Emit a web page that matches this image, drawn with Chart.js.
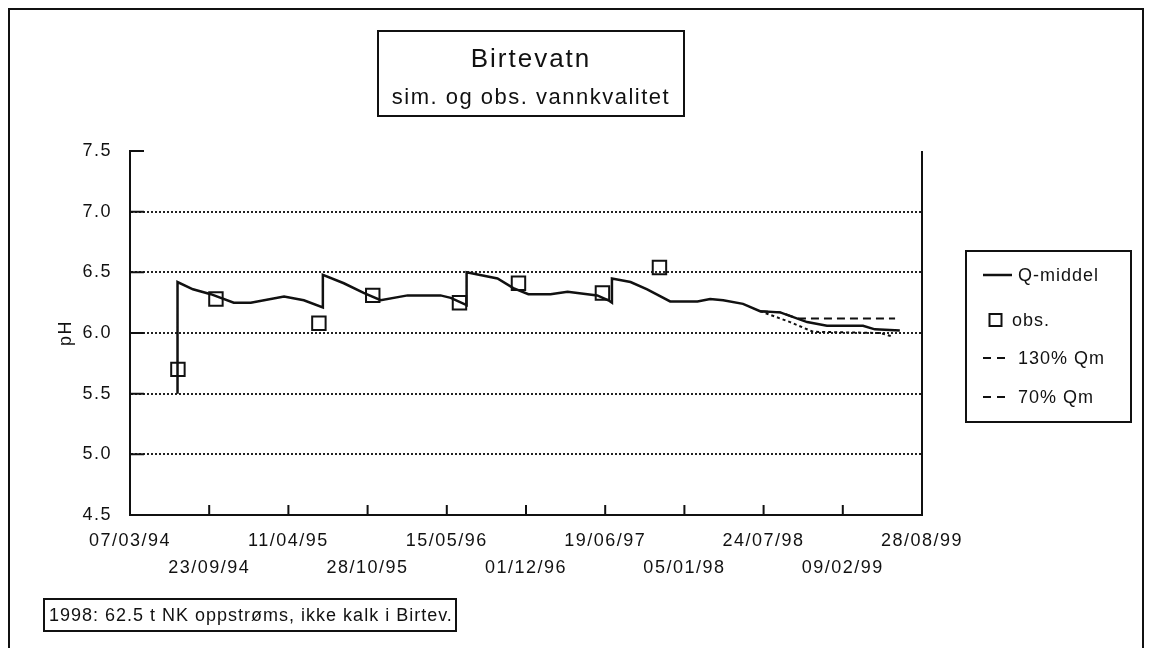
<!DOCTYPE html>
<html>
<head>
<meta charset="utf-8">
<script src="https://cdn.jsdelivr.net/npm/chart.js@4.4.0/dist/chart.umd.min.js"></script>
<style>
  body { margin: 0; background: #fff; font-family: "Liberation Sans", Arial, sans-serif; color: #111; }
  #wrap { position: relative; width: 1152px; height: 648px; overflow: hidden; background: #fff; }
  #phChart { position: absolute; left: 0; top: 0; }
  .box { position: absolute; box-sizing: border-box; border: 2px solid #111; }
  #frame { left: 8px; top: 8px; width: 1136px; height: 700px; }
  #titleBox { left: 377px; top: 30px; width: 308px; height: 87px; }
  .t { position: absolute; left: 377px; width: 308px; text-align: center; white-space: nowrap; }
  .t1 { top: 45px; font-size: 26px; line-height: 26px; letter-spacing: 2px; }
  .t2 { top: 86px; font-size: 22px; line-height: 22px; letter-spacing: 1.5px; }
  #legendBox { left: 965px; top: 250px; width: 167px; height: 173px; }
  .lg { position: absolute; height: 24px; line-height: 24px; font-size: 18px; letter-spacing: 1px; white-space: nowrap; }
  .lg svg { position: absolute; left: 0; top: 0; }
  #note { left: 43px; top: 598px; width: 414px; height: 34px; padding-left: 4px; line-height: 30px;
          font-size: 18px; letter-spacing: 1px; white-space: nowrap; }
</style>
</head>
<body>
<div id="wrap">
  <div id="frame" class="box"></div>
  <canvas id="phChart" width="1152" height="648"></canvas>
  <div id="titleBox" class="box"></div>
  <div class="t t1">Birtevatn</div>
  <div class="t t2">sim. og obs. vannkvalitet</div>
  <div id="legendBox" class="box"></div>
  <div class="lg" style="left:983px; top:263px; width:140px;">
    <svg width="30" height="24"><line x1="0" y1="12" x2="29" y2="12" stroke="#111" stroke-width="2.5"/></svg>
    <span style="position:absolute; left:35px;">Q-middel</span>
  </div>
  <div class="lg" style="left:983px; top:308px; width:140px;">
    <svg width="30" height="24"><rect x="6.5" y="6" width="12" height="12" fill="none" stroke="#111" stroke-width="2"/></svg>
    <span style="position:absolute; left:29px;">obs.</span>
  </div>
  <div class="lg" style="left:983px; top:346px; width:140px;">
    <svg width="30" height="24"><line x1="0" y1="12" x2="28" y2="12" stroke="#111" stroke-width="2" stroke-dasharray="8,6"/></svg>
    <span style="position:absolute; left:35px;">130% Qm</span>
  </div>
  <div class="lg" style="left:983px; top:385px; width:140px;">
    <svg width="30" height="24"><line x1="0" y1="12" x2="28" y2="12" stroke="#111" stroke-width="2" stroke-dasharray="8,6"/></svg>
    <span style="position:absolute; left:35px;">70% Qm</span>
  </div>
  <div id="note" class="box">1998: 62.5 t NK oppstrøms, ikke kalk i Birtev.</div>
</div>
<script>
const START = Date.UTC(1994, 2, 7);
const dayOf = iso => (Date.parse(iso) - START) / 86400000;
const tickDay = s => {
  const [d, m, y] = s.split("/").map(Number);
  return (Date.UTC(1900 + y, m - 1, d) - START) / 86400000;
};

const tickLabels = ["07/03/94", "23/09/94", "11/04/95", "28/10/95", "15/05/96", "01/12/96",
                    "19/06/97", "05/01/98", "24/07/98", "09/02/99", "28/08/99"];
const yTickValues = [4.5, 5.0, 5.5, 6.0, 6.5, 7.0, 7.5];

// simulert, middels vannføring
const qDates = ["1994-07-05", "1994-07-05", "1994-08-13", "1994-09-27", "1994-11-24", "1995-01-06",
  "1995-03-31", "1995-05-20", "1995-07-07", "1995-07-07", "1995-08-29", "1995-10-18", "1995-11-30",
  "1996-02-06", "1996-04-29", "1996-05-25", "1996-07-04", "1996-07-04", "1996-09-20", "1996-10-30",
  "1996-12-07", "1997-02-01", "1997-03-16", "1997-05-30", "1997-06-27", "1997-07-06", "1997-07-06",
  "1997-08-22", "1997-10-03", "1997-11-30", "1998-02-07", "1998-03-11", "1998-04-13", "1998-06-02",
  "1998-07-15", "1998-09-04", "1998-11-11", "1998-12-31", "1999-04-01", "1999-05-01", "1999-07-03"];
const qValues = [5.50, 6.42, 6.36, 6.32, 6.25, 6.25,
  6.30, 6.27, 6.21, 6.48, 6.41, 6.33, 6.27,
  6.31, 6.31, 6.29, 6.23, 6.50, 6.45, 6.37,
  6.32, 6.32, 6.34, 6.31, 6.27, 6.25, 6.45,
  6.42, 6.36, 6.26, 6.26, 6.28, 6.27, 6.24,
  6.18, 6.17, 6.09, 6.06, 6.06, 6.03, 6.02];

const obsDates = ["1994-07-06", "1994-10-10", "1995-06-27", "1995-11-10",
                  "1996-06-16", "1996-11-12", "1997-06-12", "1997-11-03"];
const obsValues = [5.70, 6.28, 6.08, 6.31, 6.25, 6.41, 6.33, 6.54];

const q130Dates = ["1998-07-15", "1998-09-04", "1998-10-17", "1999-06-21"];
const q130Values = [6.18, 6.17, 6.12, 6.12];

const q70Dates = ["1998-07-15", "1998-09-29", "1998-11-26", "1999-05-14", "1999-06-16"];
const q70Values = [6.18, 6.09, 6.01, 6.00, 5.97];

const pts = (dates, vals) => dates.map((d, i) => ({ x: dayOf(d), y: vals[i] }));

// bokstavavstand i canvas-tekst
const spacing = {
  id: "spacing",
  beforeUpdate(chart) { chart.ctx.letterSpacing = "1.5px"; },
  beforeDraw(chart) { chart.ctx.letterSpacing = "1.5px"; }
};

// høyre ramme + korte innvendige tick-streker
const frame = {
  id: "frame",
  afterDatasetsDraw(chart) {
    const { ctx, chartArea: a, scales: { x, y } } = chart;
    ctx.save();
    ctx.strokeStyle = "#111";
    ctx.lineWidth = 2;
    ctx.beginPath();
    ctx.moveTo(a.right, a.top);
    ctx.lineTo(a.right, a.bottom);
    y.ticks.forEach(t => {
      if (t.value > y.min) {
        const py = y.getPixelForValue(t.value);
        ctx.moveTo(a.left, py);
        ctx.lineTo(a.left + 14, py);
      }
    });
    x.ticks.forEach(t => {
      if (t.value > x.min && t.value < x.max) {
        const px = x.getPixelForValue(t.value);
        ctx.moveTo(px, a.bottom);
        ctx.lineTo(px, a.bottom - 10);
      }
    });
    ctx.stroke();
    ctx.restore();
  }
};

Chart.defaults.font.family = '"Liberation Sans", Arial, sans-serif';
Chart.defaults.color = "#111";

new Chart(document.getElementById("phChart"), {
  type: "line",
  data: {
    datasets: [
      { label: "Q-middel", data: pts(qDates, qValues), borderColor: "#111", borderWidth: 2.5,
        pointRadius: 0, tension: 0 },
      { label: "obs.", data: pts(obsDates, obsValues), showLine: false, pointStyle: "rect",
        pointRadius: 9.5, pointBorderWidth: 2, borderColor: "#111", pointBorderColor: "#111",
        pointBackgroundColor: "rgba(0,0,0,0)" },
      { label: "130% Qm", data: pts(q130Dates, q130Values), borderColor: "#111", borderWidth: 2,
        borderDash: [8, 5], pointRadius: 0, tension: 0 },
      { label: "70% Qm", data: pts(q70Dates, q70Values), borderColor: "#111", borderWidth: 2,
        borderDash: [3, 3], pointRadius: 0, tension: 0 }
    ]
  },
  options: {
    responsive: false,
    animation: false,
    layout: { padding: { left: 51, right: 230, top: 151, bottom: 63 } },
    plugins: { legend: { display: false }, tooltip: { enabled: false } },
    scales: {
      x: {
        type: "linear",
        min: 0,
        max: tickDay(tickLabels[tickLabels.length - 1]),
        afterBuildTicks: s => { s.ticks = tickLabels.map(l => ({ value: tickDay(l) })); },
        afterFit: s => { s.height = 70; },
        grid: { display: false, drawTicks: false },
        border: { display: true, color: "#111", width: 2 },
        ticks: {
          autoSkip: false, maxRotation: 0, minRotation: 0, padding: 13,
          font: { size: 18, lineHeight: 1.5 },
          callback: (v, i) => i % 2 ? ["", tickLabels[i]] : [tickLabels[i], ""]
        }
      },
      y: {
        min: 4.5,
        max: 7.5,
        afterBuildTicks: s => { s.ticks = yTickValues.map(v => ({ value: v })); },
        afterFit: s => { s.width = 79; },
        grid: {
          drawTicks: false,
          lineWidth: 2,
          color: c => (c.tick && (c.tick.value === 7.5 || c.tick.value === 4.5)) ? "rgba(0,0,0,0)" : "#222"
        },
        border: { display: true, color: "#111", width: 2, dash: [2, 2] },
        title: { display: true, text: "pH", font: { size: 18 }, padding: { top: 4, bottom: 4 } },
        ticks: { padding: 18, font: { size: 18 }, callback: v => v.toFixed(1) }
      }
    }
  },
  plugins: [spacing, frame]
});
</script>
</body>
</html>
